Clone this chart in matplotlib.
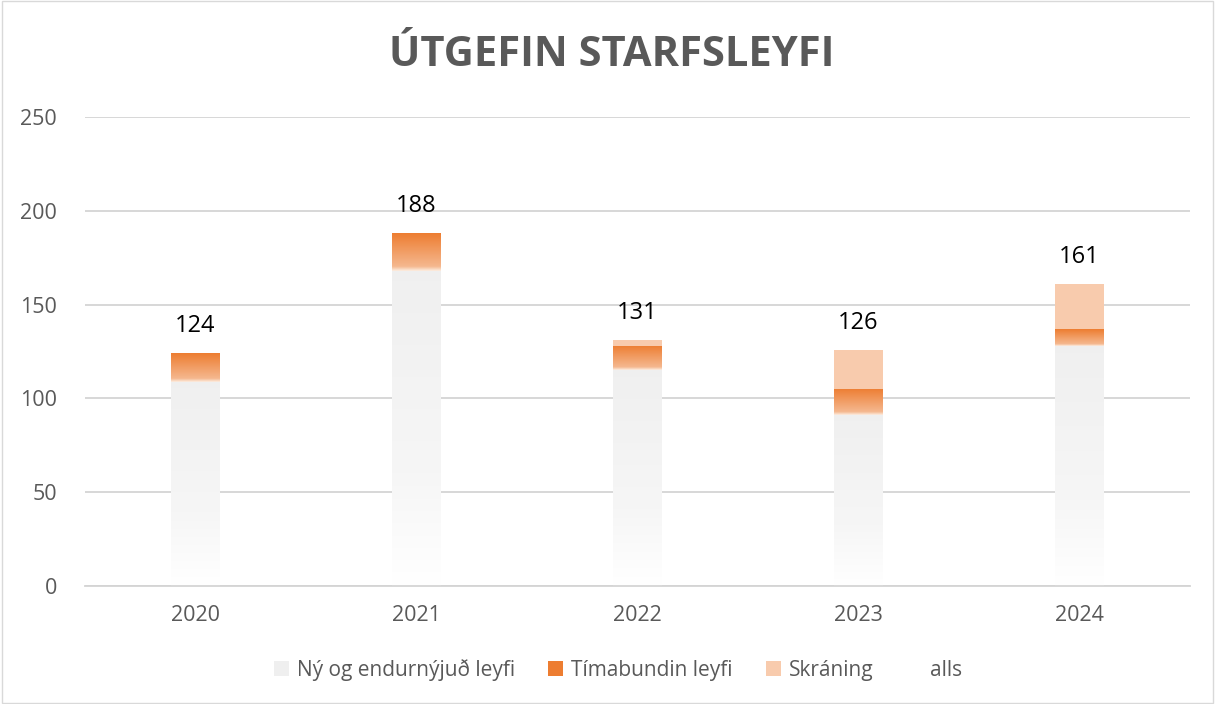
import matplotlib.pyplot as plt
from matplotlib.patches import Patch
import numpy as np

years = ['2020', '2021', '2022', '2023', '2024']
ny_endurnyjud = [109, 168, 115, 91, 128]
timabundin = [15, 20, 13, 14, 9]
skraning = [0, 0, 3, 21, 24]
alls = [124, 188, 131, 126, 161]

plt.rcParams['font.family'] = ['Open Sans', 'DejaVu Sans']
txt = '#595959'

fig = plt.figure(figsize=(12.15, 7.04), dpi=100)
ax = fig.add_axes([85/1215, 1-586/704, 1105/1215, 469/704])

x = np.arange(len(years))
w = 0.22

def grad_bar(xi, bottom, height, stops):
    # stops: list of (pos, rgb) from bottom (0) to top (1)
    if height <= 0:
        return
    r = ax.bar(xi, height, w, bottom=bottom, color='none', linewidth=0)[0]
    t = np.linspace(0, 1, 128)
    pos = [s[0] for s in stops]
    img = np.stack([np.interp(t, pos, [s[1][k] for s in stops]) for k in range(3)], axis=-1)
    img = img[:, None, :]
    im = ax.imshow(img, extent=[xi - w/2, xi + w/2, bottom, bottom + height],
                   origin='lower', aspect='auto', interpolation='bilinear', zorder=2)
    im.set_clip_path(r)

gray_stops = [(0, (1.0, 1.0, 1.0)), (0.35, (0.965, 0.965, 0.965)), (1, (0.94, 0.94, 0.94))]
or_stops = [(0, (0.99, 0.93, 0.88)), (0.12, (0.96, 0.72, 0.56)), (1, (0.93, 0.49, 0.19))]
peach = '#F8CBAD'

for i in range(len(years)):
    grad_bar(x[i], 0, ny_endurnyjud[i], gray_stops)
    grad_bar(x[i], ny_endurnyjud[i], timabundin[i], or_stops)
    if skraning[i] > 0:
        ax.bar(x[i], skraning[i], w, bottom=ny_endurnyjud[i] + timabundin[i],
               color=peach, linewidth=0, zorder=2)
    ax.text(x[i], alls[i] + 8, str(alls[i]), ha='center', va='bottom',
            fontsize=17, color='black')

ax.set_xlim(-0.5, len(years) - 0.5)
ax.set_ylim(0, 250)
ax.set_yticks([0, 50, 100, 150, 200, 250])
ax.set_xticks(x)
ax.set_xticklabels(years)
ax.yaxis.grid(True, color='#d4d4d4', linewidth=1.3)
ax.set_axisbelow(True)
for s in ['top', 'right', 'left']:
    ax.spines[s].set_visible(False)
ax.spines['bottom'].set_color('#d4d4d4')
ax.spines['bottom'].set_linewidth(1.3)
ax.tick_params(axis='both', length=0, labelsize=15.5, labelcolor=txt)
ax.tick_params(axis='x', pad=14)
ax.tick_params(axis='y', pad=20)

fig.text(612/1215, 1-56/704, 'ÚTGEFIN STARFSLEYFI', ha='center', va='center',
         fontsize=30, fontweight='bold', color=txt)

handles = [Patch(facecolor='#efefef', edgecolor='none'),
           Patch(facecolor='#ED7D31', edgecolor='none'),
           Patch(facecolor=peach, edgecolor='none'),
           Patch(facecolor='none', edgecolor='none')]
labels = ['Ný og endurnýjuð leyfi', 'Tímabundin leyfi', 'Skráning', 'alls']
fig.legend(handles, labels, loc='center', bbox_to_anchor=(618/1215, 1-670/704),
           ncol=4, frameon=False, fontsize=15, labelcolor=txt,
           handlelength=0.7, handleheight=0.7, handletextpad=0.4, columnspacing=1.6)

fig.add_artist(plt.Rectangle((0.002, 0.002), 0.996, 0.996, transform=fig.transFigure,
                             fill=False, edgecolor='#d9d9d9', linewidth=1))

fig.savefig('out.png', dpi=100)
